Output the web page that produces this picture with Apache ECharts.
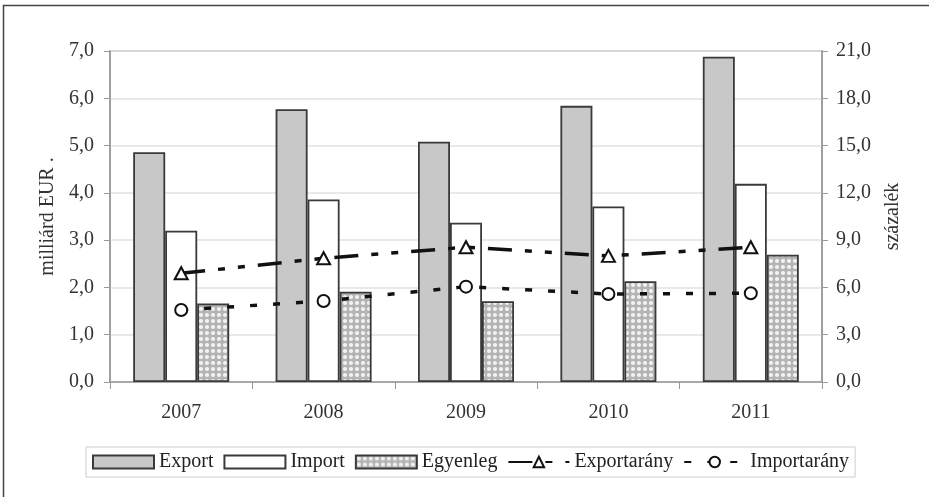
<!DOCTYPE html>
<html>
<head>
<meta charset="utf-8">
<script src="https://cdn.jsdelivr.net/npm/echarts@6/dist/echarts.min.js"></script>
<style>
html,body{margin:0;padding:0;background:#fff;}
#chart{width:929px;height:497px;}
</style>
</head>
<body>
<div id="chart"></div>
<script>
// ---- data ----
var categories = ['2007', '2008', '2009', '2010', '2011'];
var exportValues = [4.86, 5.77, 5.08, 5.84, 6.88];
var importValues = [3.20, 3.86, 3.37, 3.71, 4.19];
var egyenlegValues = [1.66, 1.91, 1.71, 2.13, 2.69];
var exportRatio = [6.9, 7.85, 8.55, 8.0, 8.55];
var importRatio = [4.57, 5.14, 6.05, 5.58, 5.63];
var leftTicks = ['0,0','1,0','2,0','3,0','4,0','5,0','6,0','7,0'];
var rightTicks = ['0,0','3,0','6,0','9,0','12,0','15,0','18,0','21,0'];

// hatch pattern for Egyenleg
var pat = document.createElement('canvas');
pat.width = 6; pat.height = 6;
var pc = pat.getContext('2d');
pc.fillStyle = '#b4b4b4';
pc.fillRect(0, 0, 6, 6);
pc.fillStyle = '#f2f2f2';
pc.beginPath(); pc.arc(3, 3, 2.1, 0, Math.PI * 2); pc.fill();

var FONT = 'Liberation Serif';
var TXT = '#333';
var FS = 20;

var chart = echarts.init(document.getElementById('chart'), null, {renderer: 'canvas'});
var option = {
  animation: false,
  backgroundColor: '#fff',
  textStyle: {fontFamily: FONT, color: TXT},
  graphic: [{
    type: 'rect', silent: true, z: -10,
    shape: {x: 3.5, y: 5.5, width: 1000, height: 1000},
    style: {fill: 'none', stroke: '#444', lineWidth: 1.5}
  }],
  grid: {left: 110, right: 107, top: 51, bottom: 115, show: true, borderColor: '#999', borderWidth: 1.5},
  legend: {
    left: 86, top: 447,
    borderColor: '#ccc', borderWidth: 1, padding: [5, 6],
    itemWidth: 61, itemHeight: 13, itemGap: 10,
    textStyle: {fontFamily: FONT, fontSize: FS, color: '#222'},
    data: [
      {name: 'Export', icon: 'rect'},
      {name: 'Import', icon: 'rect'},
      {name: 'Egyenleg', icon: 'rect'},
      {name: 'Exportarány'},
      {name: 'Importarány'}
    ]
  },
  xAxis: {
    type: 'category', data: categories,
    axisLine: {lineStyle: {color: '#999', width: 1.5}},
    axisTick: {show: true, length: 7, lineStyle: {color: '#999'}},
    axisLabel: {margin: 21, fontFamily: FONT, fontSize: FS, color: TXT}
  },
  yAxis: [{
    type: 'value', min: 0, max: 7, interval: 1,
    name: 'milliárd EUR .', nameLocation: 'middle', nameGap: 52, nameRotate: 90,
    nameTextStyle: {fontFamily: FONT, fontSize: FS, color: TXT},
    axisLine: {show: true, lineStyle: {color: '#999', width: 1.5}},
    axisTick: {show: true, length: 6, lineStyle: {color: '#999'}},
    axisLabel: {margin: 16, fontFamily: FONT, fontSize: FS, color: TXT,
      formatter: function (v) { return leftTicks[Math.round(v)]; }},
    splitLine: {lineStyle: {color: '#e2e2e2', width: 1.5}}
  }, {
    type: 'value', min: 0, max: 21, interval: 3, position: 'right',
    name: 'százalék', nameLocation: 'middle', nameGap: 61, nameRotate: 90,
    nameTextStyle: {fontFamily: FONT, fontSize: FS, color: TXT},
    axisLine: {show: true, lineStyle: {color: '#999', width: 1.5}},
    axisTick: {show: true, length: 6, lineStyle: {color: '#999'}},
    axisLabel: {margin: 14, fontFamily: FONT, fontSize: FS, color: TXT,
      formatter: function (v) { return rightTicks[Math.round(v / 3)]; }},
    splitLine: {show: false}
  }],
  series: [{
    name: 'Export', type: 'bar', data: exportValues, barWidth: 32, barGap: '0%',
    itemStyle: {color: '#c8c8c8', borderColor: '#3a3a3a', borderWidth: 1.8}
  }, {
    name: 'Import', type: 'bar', data: importValues, barWidth: 32, barGap: '0%',
    itemStyle: {color: '#ffffff', borderColor: '#3a3a3a', borderWidth: 1.8}
  }, {
    name: 'Egyenleg', type: 'bar', data: egyenlegValues, barWidth: 32, barGap: '0%',
    itemStyle: {color: {image: pat, repeat: 'repeat'}, borderColor: '#3a3a3a', borderWidth: 1.8}
  }, {
    name: 'Exportarány', type: 'line', yAxisIndex: 1, data: exportRatio, z: 5,
    symbol: 'triangle', symbolSize: [13, 12], showSymbol: true,
    lineStyle: {color: '#111', width: 3.5, type: [24, 13, 7, 13, 7, 13]},
    itemStyle: {color: '#fff', borderColor: '#111', borderWidth: 2}
  }, {
    name: 'Importarány', type: 'line', yAxisIndex: 1, data: importRatio, z: 5,
    symbol: 'circle', symbolSize: 12, showSymbol: true,
    lineStyle: {color: '#111', width: 3.5, type: [7, 16]},
    itemStyle: {color: '#fff', borderColor: '#111', borderWidth: 2}
  }]
};
chart.setOption(option);
</script>
</body>
</html>
